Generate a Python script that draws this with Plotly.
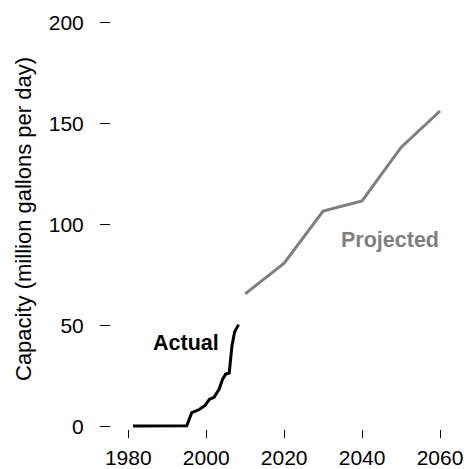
import plotly.graph_objects as go

# Actual capacity (million gallons per day)
actual_years = [1981.2, 1995, 1996.3, 1998.2, 1999.7, 2000.8, 2002, 2003.3, 2004.2, 2005, 2005.9, 2006.6, 2007.3, 2008.3]
actual_values = [0.4, 0.5, 7, 8.5, 10.5, 13.5, 14.5, 18.5, 23.5, 26, 26.5, 40, 47, 50.5]

# Projected capacity
projected_years = [2010, 2020, 2030, 2040, 2050, 2060]
projected_values = [65.7, 80.9, 106.7, 111.7, 138.2, 156.2]

x_ticks = [1980, 2000, 2020, 2040, 2060]
y_ticks = [0, 50, 100, 150, 200]

FONT = "Liberation Sans, Arial, sans-serif"
FS = 21

fig = go.Figure()
fig.add_trace(go.Scatter(x=actual_years, y=actual_values, mode="lines",
                         line=dict(color="black", width=3), showlegend=False))
fig.add_trace(go.Scatter(x=projected_years, y=projected_values, mode="lines",
                         line=dict(color="#7f7f7f", width=3), showlegend=False))

# page body margin is removed in post_script, so the figure fills the window
OFF = 0
WIN_W, WIN_H = 464, 469
W, H = WIN_W - OFF, WIN_H - OFF
ml, mr, mt, mb = 2, 2, 2, 2
pw, ph = W - ml - mr, H - mt - mb

def px_x(p):
    # window pixel -> paper fraction
    return (p - OFF - ml) / pw

def px_y(p):
    return (H - mb - (p - OFF)) / ph

# pixel scale (window pixels)
x0_px, x1_px = 128.3, 440.0   # 1980, 2060
y0_px, y1_px = 426.7, 22.5    # 0, 200
xs = (x1_px - x0_px) / 80.0
ys = (y0_px - y1_px) / 200.0
x_left_px, x_right_px = 112, WIN_W - mr
y_bot_px, y_top_px = 445, OFF + mt

fig.update_layout(
    width=W, height=H,
    margin=dict(l=ml, r=mr, t=mt, b=mb),
    plot_bgcolor="white", paper_bgcolor="white",
    font=dict(family=FONT, size=FS, color="black"),
    xaxis=dict(
        domain=[px_x(x_left_px), 1],
        range=[1980 - (x0_px - x_left_px) / xs, 1980 + (x_right_px - x0_px) / xs],
        anchor="free", position=px_y(429),
        tickvals=x_ticks, ticktext=[str(v) for v in x_ticks],
        ticks="outside", ticklen=8, tickwidth=1, tickcolor="black",
        showgrid=False, zeroline=False, showline=False,
        ticklabelstandoff=2, automargin=False,
        tickfont=dict(size=FS, color="black"),
    ),
    yaxis=dict(
        domain=[px_y(y_bot_px), 1],
        range=[-(y_bot_px - y0_px) / ys, (y0_px - y_top_px) / ys],
        anchor="free", position=px_x(110),
        tickvals=y_ticks, ticktext=[str(v) for v in y_ticks],
        ticks="outside", ticklen=10, tickwidth=1, tickcolor="black",
        showgrid=False, zeroline=False, showline=False,
        ticklabelstandoff=12, automargin=False,
        tickfont=dict(size=FS, color="black"),
    ),
    annotations=[
        dict(text="Capacity (million gallons per day)", xref="paper", yref="paper",
             x=px_x(23), y=px_y(219), textangle=-90, showarrow=False,
             xanchor="center", yanchor="middle", font=dict(size=22, color="black")),
        dict(text="<b>Actual</b>", x=1994.7, y=41.5, xref="x", yref="y",
             showarrow=False, font=dict(size=21.5, color="black")),
        dict(text="<b>Projected</b>", x=2047.2, y=92.5, xref="x", yref="y",
             showarrow=False, font=dict(size=21.5, color="#7f7f7f")),
    ],
)

fig.write_html(
    "out.html",
    config={"displayModeBar": False},
    post_script="document.body.style.margin='0';document.body.style.overflow='hidden';",
)
